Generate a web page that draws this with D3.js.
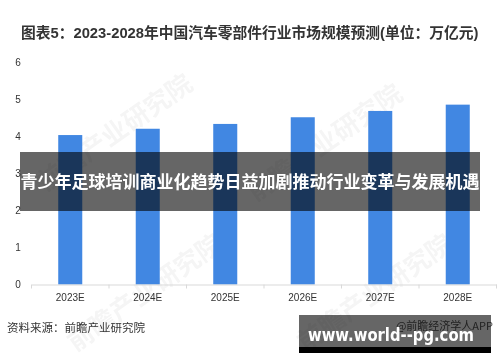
<!DOCTYPE html>
<html><head><meta charset="utf-8">
<script src="https://cdn.jsdelivr.net/npm/d3@7"></script>
<style>
html,body{margin:0;padding:0;background:#fff;}
svg{display:block;font-family:"Liberation Sans","Noto Sans CJK SC",sans-serif;}
</style></head>
<body>
<svg id="c" width="500" height="362"></svg>
<script>
const categories = ["2023E","2024E","2025E","2026E","2027E","2028E"];
const values = [4.03, 4.20, 4.33, 4.51, 4.68, 4.85];
const yTicks = [0,1,2,3,4,5,6];
const title = "图表5：2023-2028年中国汽车零部件行业市场规模预测(单位：万亿元)";
const banner = "青少年足球培训商业化趋势日益加剧推动行业变革与发展机遇";
const source = "资料来源：前瞻产业研究院";
const credit = "@前瞻经济学人APP";
const site = "www.world--pg.com";

const svg = d3.select("#c");
const x = d3.scaleBand().domain(categories).range([31.5, 496.5]).paddingInner(0.69).paddingOuter(0.345);
const y = d3.scaleLinear().domain([0,6]).range([284.5, 62]);

// watermarks
const wm = svg.append("g").attr("fill","#000").attr("opacity",0.04)
  .style("font-family","Noto Sans CJK SC").style("font-weight","bold").style("font-size","26px");
[[120,140],[330,150],[150,300],[380,300]].forEach(p=>{
  wm.append("text").attr("transform",`translate(${p[0]},${p[1]}) rotate(-35)`).attr("text-anchor","middle").text("前瞻产业研究院");
});

// title
svg.append("text").attr("x",21).attr("y",38).attr("fill","#333")
  .style("font-family","'Liberation Sans','Noto Sans CJK SC'").style("font-weight","bold").style("font-size","14.75px")
  .text(title);

// y axis labels
svg.append("g").selectAll("text").data(yTicks).join("text")
  .attr("x",18).attr("y",d=>y(d)+3.5).attr("text-anchor","middle")
  .attr("fill","#333").style("font-size","10px").text(d=>d);

// bars
svg.append("g").selectAll("rect").data(values).join("rect")
  .attr("x",(d,i)=>x(categories[i])).attr("width",x.bandwidth())
  .attr("y",d=>y(d)).attr("height",d=>y(0)-y(d)).attr("fill","#4187e2");

// x axis
const xAxis = d3.axisBottom(x).tickSize(0).tickPadding(9);
const gx = svg.append("g").attr("transform",`translate(0,${y(0)})`).call(xAxis);
gx.select(".domain").attr("stroke","#d9d9d9");
gx.selectAll("text").attr("fill","#333").style("font-size","10px").style("font-family","'Liberation Sans'");
const bounds = categories.map(c=>x(c)-x.step()*x.paddingInner()/2).concat([x.range()[1]]);
gx.selectAll(".bnd").data(bounds).join("line").attr("class","bnd")
  .attr("x1",d=>d).attr("x2",d=>d).attr("y1",0).attr("y2",4).attr("stroke","#d9d9d9");

// source & credit
svg.append("text").attr("x",7).attr("y",332).attr("fill","#333")
  .style("font-family","'Noto Sans CJK SC'").style("font-size","11.5px").text(source);
svg.append("text").attr("x",493).attr("y",330).attr("text-anchor","end").attr("fill","#555")
  .style("font-family","'Noto Sans CJK SC'").style("font-size","11px").text(credit);

// overlay banner
svg.append("rect").attr("x",20).attr("y",152).attr("width",460).attr("height",59).attr("fill","rgba(0,0,0,0.6)");
svg.append("text").attr("x",250).attr("y",188).attr("text-anchor","middle").attr("fill","#fff")
  .style("font-family","'Noto Sans CJK SC'").style("font-weight","bold").style("font-size","17px").text(banner);

// bottom site badge
svg.append("rect").attr("x",299).attr("y",315).attr("width",192).attr("height",32).attr("fill","rgba(0,0,0,0.6)");
svg.append("rect").attr("x",299).attr("y",347).attr("width",192).attr("height",6).attr("fill","#000");
svg.append("text").attr("x",308).attr("y",341).attr("fill","#fff")
  .style("font-family","'DejaVu Sans'").style("font-weight","bold").style("font-size","17px")
  .attr("textLength",166).attr("lengthAdjust","spacingAndGlyphs").text(site);
</script>
</body></html>
